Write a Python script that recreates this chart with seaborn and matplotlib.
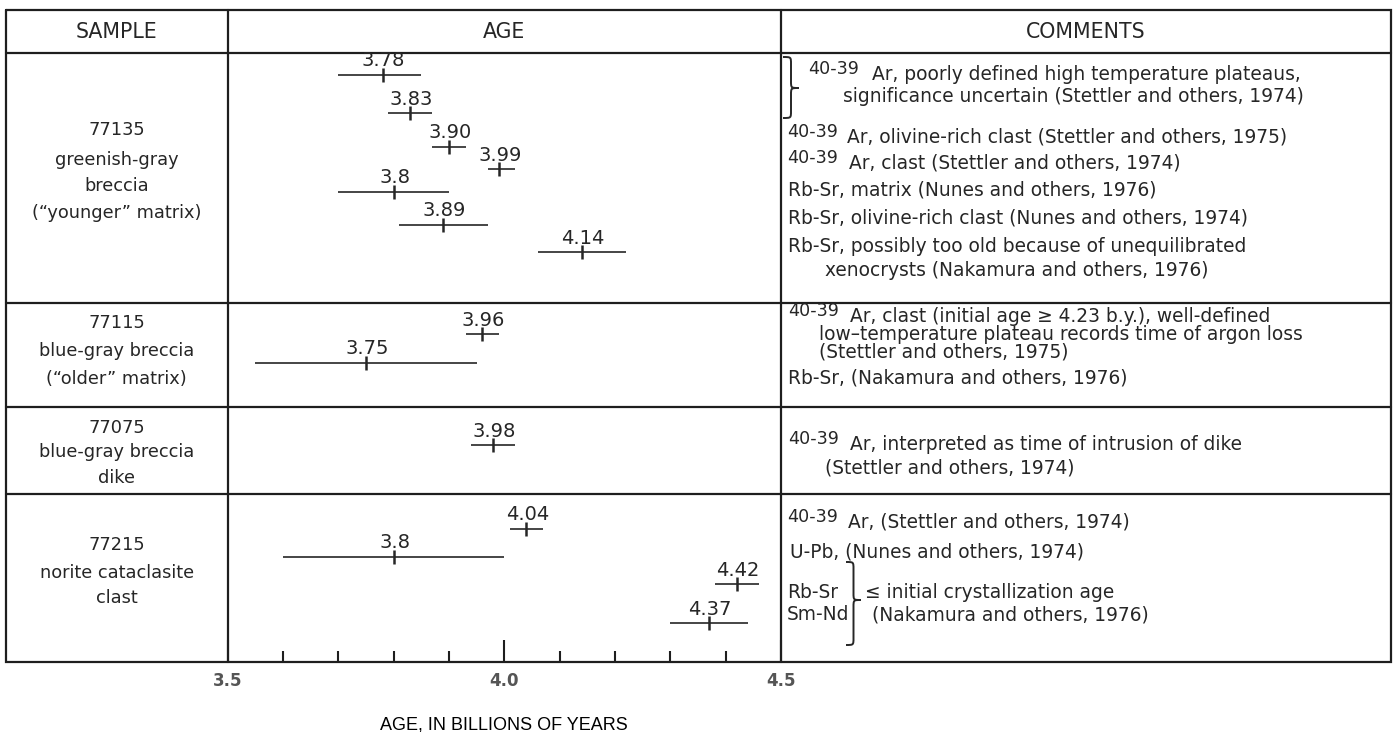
import numpy as np
import pandas as pd
import matplotlib
matplotlib.use("Agg")
import matplotlib.pyplot as plt
from matplotlib.path import Path
from matplotlib.patches import PathPatch
import seaborn as sns

# ---------------- data ----------------
samples = ["77135", "77115", "77075", "77215"]
sample_desc = [
    ["greenish-gray", "breccia", "(\u201cyounger\u201d matrix)"],
    ["blue-gray breccia", "(\u201colder\u201d matrix)"],
    ["blue-gray breccia", "dike"],
    ["norite cataclasite", "clast"],
]
age_sample = ["77135"] * 7 + ["77115"] * 2 + ["77075"] + ["77215"] * 4
age_value = [3.78, 3.83, 3.90, 3.99, 3.80, 3.89, 4.14,
             3.96, 3.75,
             3.98,
             4.04, 3.80, 4.42, 4.37]
age_label = ["3.78", "3.83", "3.90", "3.99", "3.8", "3.89", "4.14",
             "3.96", "3.75",
             "3.98",
             "4.04", "3.8", "4.42", "4.37"]
age_low = [3.70, 3.79, 3.87, 3.97, 3.70, 3.81, 4.06,
           3.93, 3.55,
           3.94,
           4.01, 3.60, 4.38, 4.30]
age_high = [3.85, 3.87, 3.93, 4.02, 3.90, 3.97, 4.22,
            3.99, 3.95,
            4.02,
            4.07, 4.00, 4.46, 4.44]
x_major = [3.5, 4.0, 4.5]
x_minor = [3.6, 3.7, 3.8, 3.9, 4.1, 4.2, 4.3, 4.4]
x_major_labels = ["3.5", "4.0", "4.5"]
header_labels = ["SAMPLE", "AGE", "COMMENTS"]
x_title = "AGE, IN BILLIONS OF YEARS"

# ---------------- layout (figure pixels, y from top) ----------------
W, H = 1393, 732
bar_rows = [74.7, 113.3, 146.7, 169.3, 191.7, 225, 252,
            334.3, 363, 445.3, 529, 556.7, 584.3, 623.3]
tbl_left, tbl_right, tbl_top, tbl_bottom = 6, 1391, 10, 662
header_bottom = 53
col1, col2 = 227.7, 781
row_lines = [303, 407, 494]
sample_text_y = [[130, 160, 186, 213], [323, 351, 379], [428, 452, 478], [545, 573, 598]]

INK = "#262626"
LINE = "#1e1e1e"

sns.set_style("white")
plt.rcParams["font.family"] = ["DejaVu Sans"]

fig = plt.figure(figsize=(W / 100, H / 100), dpi=100)
fig.patch.set_facecolor("white")

# background / table axes in pixel coordinates
bg = fig.add_axes([0, 0, 1, 1])
bg.set_xlim(0, W)
bg.set_ylim(H, 0)
bg.axis("off")

lw_tbl = 1.6
bg.plot([tbl_left, tbl_right, tbl_right, tbl_left, tbl_left],
        [tbl_top, tbl_top, tbl_bottom, tbl_bottom, tbl_top], color=LINE, lw=lw_tbl,
        solid_joinstyle="miter")
bg.plot([tbl_left, tbl_right], [header_bottom, header_bottom], color=LINE, lw=lw_tbl)
for yl in row_lines:
    bg.plot([tbl_left, tbl_right], [yl, yl], color=LINE, lw=lw_tbl)
for xc in (col1, col2):
    bg.plot([xc, xc], [tbl_top, tbl_bottom], color=LINE, lw=lw_tbl)

# headers
hdr_y = 32
FS_H = 14.8
bg.text((tbl_left + col1) / 2, hdr_y, header_labels[0], ha="center", va="center", fontsize=FS_H, color=INK)
bg.text((col1 + col2) / 2, hdr_y, header_labels[1], ha="center", va="center", fontsize=FS_H, color=INK)
bg.text((col2 + tbl_right) / 2, hdr_y, header_labels[2], ha="center", va="center", fontsize=FS_H, color=INK)

# sample column
for name, desc, ys in zip(samples, sample_desc, sample_text_y):
    lines = [name] + desc
    for t, yy in zip(lines, ys):
        bg.text((tbl_left + col1) / 2, yy, t, ha="center", va="center", fontsize=12.8, color=INK)

# comments
FS_C = 13.4
FS_SUP = 12.6

def cline(x, y, s, fs=FS_C):
    bg.text(x, y, s, ha="left", va="center", fontsize=fs, color=INK)

def argon(x, y, s, dx=61, fs=FS_C):
    bg.text(x, y - 5, "40-39", ha="left", va="center", fontsize=FS_SUP, color=INK)
    bg.text(x + dx, y, s, ha="left", va="center", fontsize=fs, color=INK)

def brace(x0, y0, y1, m, w):
    xm = x0 + w / 2
    q = min(7, (m - y0) / 2)
    verts = [(x0, y0), (xm, y0), (xm, y0), (xm, y0 + q), (xm, m - q),
             (xm, m), (xm, m), (x0 + w, m),
             (xm, m), (xm, m), (xm, m + q),
             (xm, y1 - q),
             (xm, y1), (xm, y1), (x0, y1)]
    codes = [Path.MOVETO, Path.CURVE4, Path.CURVE4, Path.CURVE4, Path.LINETO,
             Path.CURVE4, Path.CURVE4, Path.CURVE4,
             Path.CURVE4, Path.CURVE4, Path.CURVE4,
             Path.LINETO,
             Path.CURVE4, Path.CURVE4, Path.CURVE4]
    bg.add_patch(PathPatch(Path(verts, codes), fill=False, ec=INK, lw=1.4))

# row 1
brace(783, 57, 118, 88, 16)
argon(808, 74, "Ar, poorly defined high temperature plateaus,", dx=64)
cline(843, 97, "significance uncertain (Stettler and others, 1974)")
argon(787, 137, "Ar, olivine-rich clast (Stettler and others, 1975)", dx=60)
argon(787, 163, "Ar, clast (Stettler and others, 1974)", dx=62)
cline(788, 190, "Rb-Sr, matrix (Nunes and others, 1976)")
cline(788, 218, "Rb-Sr, olivine-rich clast (Nunes and others, 1974)")
cline(788, 247, "Rb-Sr, possibly too old because of unequilibrated")
cline(825, 270, "xenocrysts (Nakamura and others, 1976)")
# row 2 (tight spacing)
argon(788, 316, "Ar, clast (initial age \u2265 4.23 b.y.), well-defined", dx=62)
cline(819, 334, "low\u2013temperature plateau records time of argon loss")
cline(819, 352, "(Stettler and others, 1975)")
cline(788, 378, "Rb-Sr, (Nakamura and others, 1976)")
# row 3
argon(788, 444, "Ar, interpreted as time of intrusion of dike", dx=62)
cline(825, 468, "(Stettler and others, 1974)")
# row 4
argon(787, 522, "Ar, (Stettler and others, 1974)", dx=61)
cline(790, 552, "U-Pb, (Nunes and others, 1974)")
cline(787, 592, "Rb-Sr")
cline(787, 615, "Sm-Nd")
brace(846, 562, 645, 600, 15)
cline(865, 592, "\u2264 initial crystallization age")
cline(872, 615, "(Nakamura and others, 1976)")

# ---------------- age axes ----------------
ax = fig.add_axes([col1 / W, (H - tbl_bottom) / H, (col2 - col1) / W, (tbl_bottom - header_bottom) / H])
ax.patch.set_alpha(0)
df = pd.DataFrame({"sample": age_sample, "age": age_value, "low": age_low,
                   "high": age_high, "label": age_label, "row": bar_rows})

ax.hlines(df["row"], df["low"], df["high"], color=INK, lw=1.2)
sns.scatterplot(data=df, x="age", y="row", marker="|", s=110, color=INK,
                linewidth=1.8, ax=ax, legend=False)
for _, r in df.iterrows():
    ax.annotate(r["label"], (r["age"], r["row"]), xytext=(1, 14), textcoords="offset pixels",
                ha="center", va="center", fontsize=14, color=INK)

ax.set_xlim(3.5, 4.5)
ax.set_ylim(tbl_bottom, header_bottom)
for sp in ax.spines.values():
    sp.set_visible(False)
ax.set_yticks([])
ax.set_ylabel("")
ax.set_xticks(x_major)
ax.set_xticklabels(x_major_labels)
ax.set_xticks(x_minor, minor=True)
ax.tick_params(axis="x", which="both", bottom=True)
ax.tick_params(axis="x", which="major", direction="in", length=16, width=1.5, color=LINE,
               pad=7, labelsize=12, labelcolor="#555555")
ax.tick_params(axis="x", which="minor", direction="in", length=7.7, width=1.5, color=LINE)
for t in ax.get_xticklabels():
    t.set_fontweight("bold")
ax.set_xlabel(x_title, fontsize=13, family=["Liberation Sans"], color="black")
ax.xaxis.set_label_coords(0.5, -(716 - tbl_bottom) / (tbl_bottom - header_bottom))

fig.savefig("out.png", dpi=100, facecolor="white")
